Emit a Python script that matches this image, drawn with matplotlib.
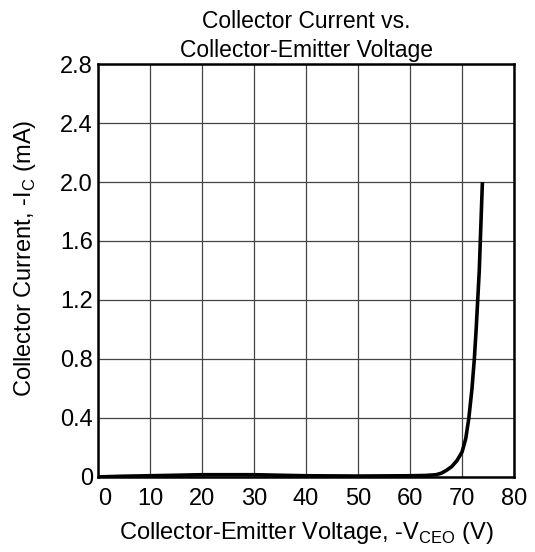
import matplotlib
matplotlib.use("Agg")
import matplotlib.pyplot as plt
import matplotlib.transforms as mtransforms

plt.rcParams['font.family'] = ['Liberation Sans', 'DejaVu Sans']

# curve: -VCEO (V) vs -IC (mA)
vce = [0, 5, 10, 20, 30, 40, 50, 60, 63, 65, 66, 67, 68, 69, 70, 70.7, 71.3, 71.9, 72.35, 72.7, 73.0, 73.3, 73.5, 73.7, 73.9]
ic = [0.0, 0.005, 0.008, 0.015, 0.015, 0.008, 0.006, 0.008, 0.01, 0.015, 0.025, 0.045, 0.07, 0.11, 0.17, 0.26, 0.4, 0.6, 0.8, 1.0, 1.2, 1.4, 1.6, 1.8, 2.0]

xticks = [0, 10, 20, 30, 40, 50, 60, 70, 80]
yticks = [0, 0.4, 0.8, 1.2, 1.6, 2.0, 2.4, 2.8]
ylabels = ['0', '0.4', '0.8', '1.2', '1.6', '2.0', '2.4', '2.8']

fig = plt.figure(figsize=(5.35, 5.52), dpi=100)
ax = fig.add_axes([0.183, 0.136, 0.778, 0.748])

ax.plot(vce, ic, color='black', linewidth=2.6, solid_capstyle='butt')

ax.set_xlim(0, 80)
ax.set_ylim(0, 2.8)
ax.set_xticks(xticks)
ax.set_yticks(yticks)
ax.set_yticklabels(ylabels)
ax.grid(True, color='#444444', linewidth=0.9)
ax.set_axisbelow(True)
ax.tick_params(length=0, labelsize=17)
ax.tick_params(axis='x', pad=8)
ax.tick_params(axis='y', pad=3.5)
for s in ax.spines.values():
    s.set_linewidth(1.8)

# the 0 label sits a little to the right of the corner
lbl0 = ax.get_xticklabels()[0]
lbl0.set_transform(lbl0.get_transform() + mtransforms.ScaledTranslation(0.07, 0, fig.dpi_scale_trans))

ax.set_xlabel('Collector-Emitter Voltage, -V$_\\mathregular{CEO}$ (V)', fontsize=17)
ax.set_ylabel('Collector Current, -I$_\\mathregular{C}$ (mA)', fontsize=17)
ax.xaxis.set_label_coords(0.5, -0.105)
ax.yaxis.set_label_coords(-0.143, 0.53)
ax.set_title('Collector Current vs.\nCollector-Emitter Voltage', fontsize=16.5, pad=5, linespacing=1.35)

fig.savefig('out.png', dpi=100)
